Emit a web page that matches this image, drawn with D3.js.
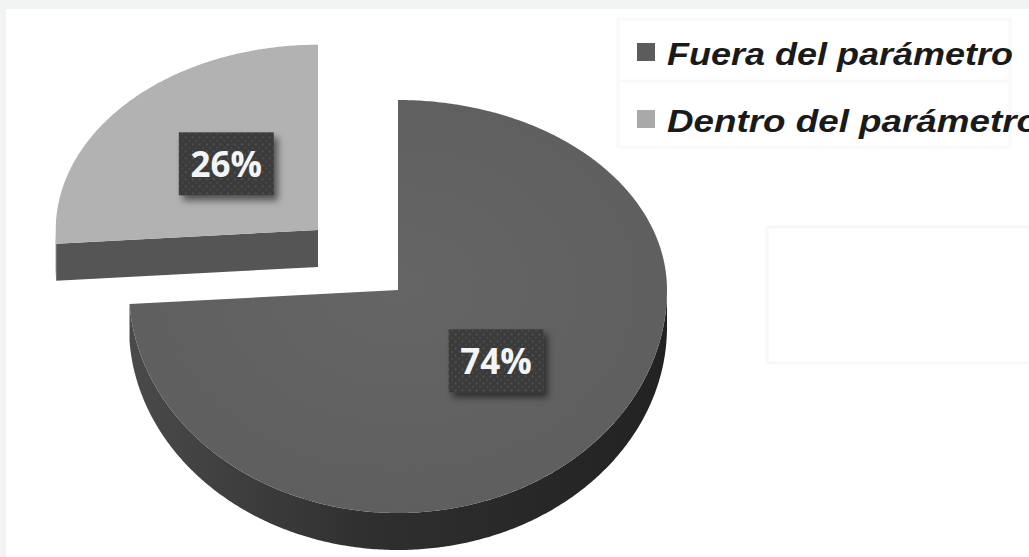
<!DOCTYPE html>
<html>
<head>
<meta charset="utf-8">
<script src="https://cdnjs.cloudflare.com/ajax/libs/d3/7.8.5/d3.min.js"></script>
<style>
  html, body { margin: 0; padding: 0; background: #f2f4f4; }
  svg { display: block; }
</style>
</head>
<body>
<svg id="chart" width="1029" height="557"></svg>
<script>
// ---- data ----
const categories = ["Fuera del parámetro", "Dentro del parámetro"];
const values = [74, 26];
const valueLabels = ["74%", "26%"];
const exploded = [false, true];

// ---- layout ----
const W = 1029, H = 557;
const svg = d3.select("#chart");
const colors = d3.scaleOrdinal().domain(categories).range(["#616161", "#b2b2b2"]);
const sideColors = d3.scaleOrdinal().domain(categories).range(["url(#sideGrad)", "#555555"]);
const swatchColors = d3.scaleOrdinal().domain(categories).range(["#5c5c5c", "#a9a9a9"]);

const CX = 398, CY = 290;         // pie apex
const RX = 269, RYT = 190, RYB = 223; // perspective-ish ellipse radii
const DEPTH = 37;
const explodeOffset = { dx: -80, dy: -60, s: 0.975 };

const defs = svg.append("defs");
const sg = defs.append("linearGradient").attr("id", "sideGrad").attr("x1", "0").attr("x2", "1").attr("y1", "0").attr("y2", "0");
sg.append("stop").attr("offset", "0").attr("stop-color", "#4a4a4a");
sg.append("stop").attr("offset", "0.45").attr("stop-color", "#2f2f2f");
sg.append("stop").attr("offset", "1").attr("stop-color", "#222222");

const tg = defs.append("radialGradient").attr("id", "topGrad").attr("cx", "0.5").attr("cy", "0.45").attr("r", "0.6");
tg.append("stop").attr("offset", "0").attr("stop-color", "#656565");
tg.append("stop").attr("offset", "1").attr("stop-color", "#5e5e5e");

const pat = defs.append("pattern").attr("id", "dots").attr("patternUnits", "userSpaceOnUse")
  .attr("width", 7).attr("height", 7);
pat.append("rect").attr("width", 7).attr("height", 7).attr("fill", "#3b3b3b");
pat.append("circle").attr("cx", 1.5).attr("cy", 1.5).attr("r", 0.9).attr("fill", "#5a5a5a");
pat.append("circle").attr("cx", 5).attr("cy", 5).attr("r", 0.9).attr("fill", "#4c4c4c");

const shadow = defs.append("filter").attr("id", "shadow").attr("x", "-30%").attr("y", "-30%").attr("width", "160%").attr("height", "160%");
shadow.append("feDropShadow").attr("dx", 4).attr("dy", 5).attr("stdDeviation", 3.5)
  .attr("flood-color", "#000").attr("flood-opacity", 0.55);

// background panel
svg.append("rect").attr("x", 0).attr("y", 0).attr("width", W).attr("height", H).attr("fill", "#f2f4f4");
svg.append("rect").attr("x", 6).attr("y", 9).attr("width", W - 6).attr("height", H - 9).attr("fill", "#ffffff");

// faint leftover frames
svg.append("rect").attr("x", 767).attr("y", 227).attr("width", 270).attr("height", 136)
  .attr("fill", "none").attr("stroke", "#f8f8f8").attr("stroke-width", 3);
svg.append("rect").attr("x", 618).attr("y", 19).attr("width", 392).attr("height", 128)
  .attr("fill", "none").attr("stroke", "#f9f9f9").attr("stroke-width", 3);
svg.append("line").attr("x1", 618).attr("x2", 1008).attr("y1", 81).attr("y2", 81)
  .attr("stroke", "#f9f9f9").attr("stroke-width", 3);

// ---- pie ----
const pie = d3.pie().sort(null).value(d => d.value);
const arcs = pie(categories.map((c, i) => ({ cat: c, value: values[i], label: valueLabels[i], exploded: exploded[i] })));

function pt(theta, cx, cy, s) {
  const c = Math.cos(theta);
  return [cx + RX * s * Math.sin(theta), cy - (c > 0 ? RYT : RYB) * s * c];
}
function arcPts(a0, a1, cx, cy, s, dy) {
  const n = Math.max(2, Math.ceil(Math.abs(a1 - a0) / 0.01));
  return d3.range(n + 1).map(i => {
    const p = pt(a0 + (a1 - a0) * i / n, cx, cy, s);
    return [p[0], p[1] + (dy || 0)];
  });
}
const line = d3.line();

arcs.forEach(a => {
  a.cx = CX + (a.data.exploded ? explodeOffset.dx : 0);
  a.cy = CY + (a.data.exploded ? explodeOffset.dy : 0);
  a.s = a.data.exploded ? explodeOffset.s : 1;
});

const g = svg.append("g");

// sides first
arcs.forEach(a => {
  const col = sideColors(a.data.cat);
  const lo = Math.max(a.startAngle, Math.PI / 2), hi = Math.min(a.endAngle, 3 * Math.PI / 2);
  if (hi > lo) {
    const top = arcPts(lo, hi, a.cx, a.cy, a.s, 0);
    const bot = arcPts(hi, lo, a.cx, a.cy, a.s, DEPTH);
    g.append("path").attr("d", line(top.concat(bot)) + "Z").attr("fill", col);
  }
  if (a.startAngle > Math.PI && a.startAngle < 3 * Math.PI / 2) {
    const p = pt(a.startAngle, a.cx, a.cy, a.s);
    const pts = [[a.cx, a.cy], p, [p[0], p[1] + DEPTH], [a.cx, a.cy + DEPTH]];
    g.append("path").attr("d", line(pts) + "Z").attr("fill", "#555555");
  }
});

// top faces
arcs.forEach(a => {
  const pts = [[a.cx, a.cy]].concat(arcPts(a.startAngle, a.endAngle, a.cx, a.cy, a.s, 0));
  g.append("path").attr("d", line(pts) + "Z")
    .attr("fill", a.data.exploded ? colors(a.data.cat) : "url(#topGrad)");
});

// data labels
const labelFrac = 0.49;
arcs.forEach(a => {
  const mid = (a.startAngle + a.endAngle) / 2;
  const p = pt(mid, a.cx, a.cy, a.s * labelFrac);
  const bw = 95, bh = 63;
  const lg = svg.append("g").attr("transform", `translate(${p[0] + 2},${p[1] - 4})`);
  lg.append("rect").attr("x", -bw / 2).attr("y", -bh / 2).attr("width", bw).attr("height", bh)
    .attr("fill", "url(#dots)").attr("filter", "url(#shadow)");
  lg.append("text").attr("x", 0).attr("y", 13)
    .attr("text-anchor", "middle")
    .attr("font-family", "'Open Sans', sans-serif").attr("font-weight", "bold")
    .attr("font-size", 35).attr("fill", "#f4f4f4")
    .text(a.data.label);
});

// ---- legend ----
const legend = svg.append("g");
const legendY = d3.scalePoint().domain(categories).range([52, 119]);
categories.forEach(c => {
  const y = legendY(c);
  legend.append("rect").attr("x", 637).attr("y", y - 9).attr("width", 18).attr("height", 18)
    .attr("fill", swatchColors(c));
  legend.append("text").attr("x", 667).attr("y", y + 13)
    .attr("font-family", "'Liberation Sans', Arial, sans-serif")
    .attr("font-style", "italic").attr("font-weight", "bold")
    .attr("font-size", 31).attr("fill", "#1a1a1a")
    .attr("textLength", c === categories[0] ? 346 : 372)
    .attr("lengthAdjust", "spacingAndGlyphs")
    .text(c);
});
</script>
</body>
</html>
